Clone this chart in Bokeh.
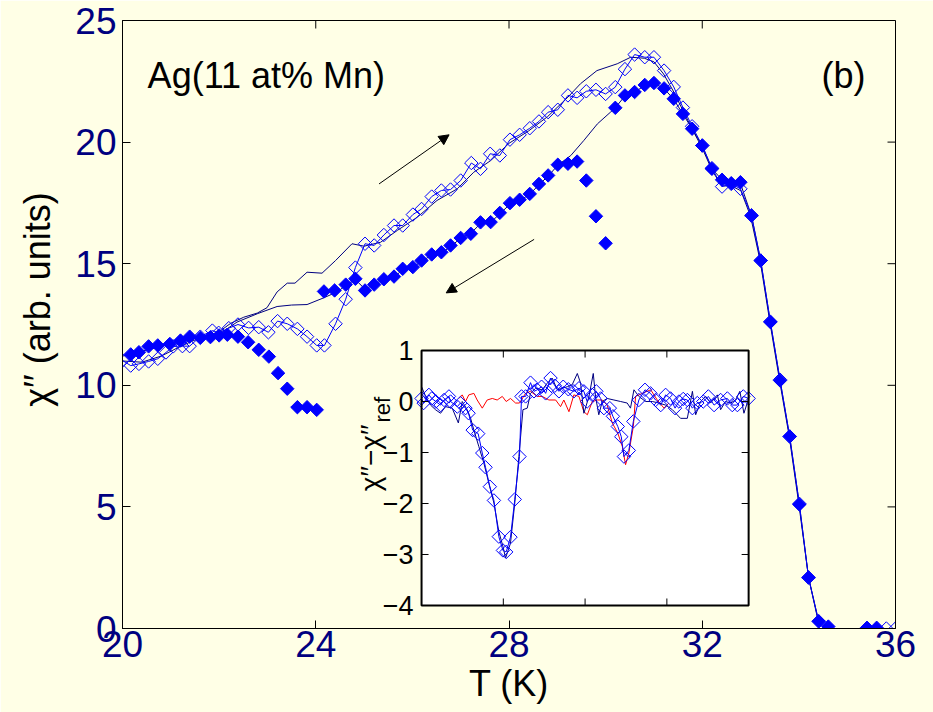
import numpy as np
from math import pi
from bokeh.plotting import figure
from bokeh.models import Range1d, FixedTicker, Label, Arrow, NormalHead
from bokeh.embed import file_html
from bokeh.resources import INLINE
from bokeh.core.properties import value

BG = "#FFFFE6"
NAVY = "#000080"
BLUE = "#0000FF"
FONT = "Liberation Sans"

# ---------------- main panel data ----------------
x_ticks = [20, 24, 28, 32, 36]
y_ticks = [0, 5, 10, 15, 20, 25]

# heating with stops (open diamonds)
open_T = [20.0, 20.17, 20.34, 20.54, 20.73, 20.9, 21.05, 21.24, 21.39, 21.61, 21.86, 21.99,
          22.2, 22.39, 22.61, 22.82, 23.02, 23.21, 23.41, 23.62, 23.82, 24.02, 24.18, 24.41,
          24.62, 24.82, 25.02, 25.21, 25.41, 25.62, 25.8, 26.01, 26.19, 26.4, 26.6, 26.79,
          27.0, 27.22, 27.41, 27.61, 27.81, 28.02, 28.22, 28.43, 28.62, 28.81, 29.01, 29.22,
          29.41, 29.6, 29.8, 30.0, 30.2, 30.4, 30.6, 30.81, 31.0, 31.21, 31.41, 31.6, 31.79,
          32.0, 32.2, 32.41, 32.6, 32.79, 33.02, 33.21, 33.41, 33.61, 33.81, 34.01, 34.2, 34.41]
open_chi = [11.02, 10.81, 10.88, 10.98, 11.09, 11.35, 11.6, 11.61, 11.61, 12.0, 12.25, 12.16,
            12.35, 12.5, 12.36, 12.39, 12.18, 12.64, 12.53, 12.32, 12.0, 11.64, 11.64, 12.53,
            13.54, 14.84, 15.82, 15.75, 16.18, 16.57, 16.57, 17.02, 17.25, 17.76, 18.01, 18.05,
            18.42, 19.14, 18.9, 19.52, 19.45, 20.1, 20.3, 20.57, 20.85, 21.23, 21.33, 21.92,
            21.82, 22.09, 22.15, 21.98, 22.26, 23.0, 23.6, 23.49, 23.49, 22.94, 22.27, 21.42, 20.65,
            19.86, 18.93, 18.17, 18.28, 18.08, 16.98, 15.13, 12.62, 10.23, 7.89, 5.13, 2.09, 0.29]
open_tail_T = [35.81, 36.0]
open_tail_chi = [0.0, 0.0]

# cooling with stops (filled diamonds)
filled_T = [20.17, 20.34, 20.54, 20.73, 20.98, 21.2, 21.39, 21.61, 21.82, 22.0, 22.17, 22.39,
            22.6, 22.82, 23.03, 23.22, 23.41, 23.62, 23.82, 24.02,
            24.17, 24.39, 24.62, 24.82, 25.02, 25.21, 25.41, 25.62, 25.8, 26.01, 26.19, 26.4,
            26.6, 26.79, 27.0, 27.21, 27.41, 27.62, 27.81, 28.02, 28.22, 28.43, 28.62, 28.81,
            29.01, 29.22, 29.41, 29.6, 29.8, 30.0,
            30.2, 30.4, 30.6, 30.81, 31.0, 31.21, 31.41, 31.6, 31.79, 32.0, 32.2, 32.41, 32.6,
            32.79, 33.02, 33.21, 33.41, 33.61, 33.81, 34.01, 34.2, 34.41, 34.61, 35.41, 35.61]
filled_chi = [11.27, 11.36, 11.6, 11.64, 11.7, 11.84, 12.0, 11.95, 11.98, 12.05, 12.08, 12.0,
              11.77, 11.46, 11.18, 10.5, 9.86, 9.1, 9.1, 8.99,
              13.86, 13.9, 14.14, 14.38, 13.9, 14.14, 14.36, 14.47, 14.79, 14.86, 15.13, 15.38,
              15.47, 15.75, 16.06, 16.23, 16.7, 16.71, 17.09, 17.49, 17.63, 17.87, 18.28, 18.63,
              19.07, 19.11, 19.2, 18.42, 16.95, 15.84,
              21.41, 21.92, 22.06, 22.35, 22.43, 22.21, 21.78, 21.16, 20.55, 19.86, 18.9, 18.45, 18.31,
              18.35, 16.98, 15.13, 12.6, 10.2, 7.9, 5.1, 2.1, 0.3, 0.08, 0.03, 0.03]

# reference curves (thin lines)
ref_heat_T = [20.0, 20.4, 20.8, 21.2, 21.6, 22.0, 22.24, 22.51, 22.79, 22.99, 23.2, 23.41, 23.57,
              23.82, 24.13, 24.41, 24.75, 25.0, 25.34, 25.69, 26.1, 26.51, 26.93, 27.27, 27.62,
              28.0, 28.4, 28.8, 29.22, 29.48, 29.82, 30.24, 30.52, 30.8, 31.0, 31.2, 31.4, 31.6,
              31.8, 32.0, 32.2, 32.4, 32.6, 32.8, 33.0, 33.2, 33.4, 33.6, 33.8, 34.0, 34.2, 34.4]
ref_heat_chi = [11.0, 10.95, 11.2, 11.6, 11.95, 12.2, 12.55, 12.8, 12.97, 13.19, 13.84, 14.2, 14.2,
                14.65, 14.61, 15.13, 15.82, 15.72, 15.88, 16.37, 16.91, 17.6, 18.08, 18.76, 19.24,
                19.95, 20.45, 21.05, 21.85, 22.4, 22.94, 23.22, 23.49, 23.45, 23.3, 22.8, 22.1, 21.3,
                20.5, 19.75, 18.85, 18.2, 18.2, 18.0, 16.95, 15.1, 12.6, 10.2, 7.9, 5.1, 2.1, 0.3]
ref_cool_T = [20.0, 20.4, 20.8, 21.2, 21.6, 22.0, 22.37, 22.8, 23.2, 23.5, 23.82, 24.17, 24.45,
              24.62, 24.82, 25.02, 25.21, 25.41, 25.62, 25.8, 26.01, 26.19, 26.4, 26.6, 26.79,
              27.0, 27.21, 27.41, 27.62, 27.81, 28.02, 28.22, 28.43, 28.62, 28.81, 29.01, 29.28,
              29.55, 29.83, 30.1, 30.2, 30.4, 30.6, 30.81, 31.0, 31.21, 31.41, 31.6, 31.79, 32.0,
              32.2, 32.41, 32.6, 32.79, 33.02, 33.21, 33.41, 33.61, 33.81, 34.01, 34.2, 34.41]
ref_cool_chi = [11.2, 11.4, 11.6, 11.85, 12.0, 12.1, 12.6, 12.95, 13.24, 13.3, 13.32, 13.6, 13.85,
                14.1, 14.35, 13.95, 14.15, 14.35, 14.45, 14.75, 14.85, 15.1, 15.35, 15.45, 15.7,
                16.05, 16.25, 16.65, 16.7, 17.05, 17.45, 17.6, 17.85, 18.25, 18.6, 19.05, 19.45,
                20.07, 20.75, 21.23, 21.41, 21.9, 22.05, 22.33, 22.42, 22.2, 21.76, 21.15, 20.55, 19.85,
                18.9, 18.45, 18.3, 18.3, 16.97, 15.12, 12.6, 10.2, 7.9, 5.1, 2.1, 0.3]

# ---------------- inset data ----------------
inset_x_ticks = [24, 28, 32]
inset_y_ticks = [1, 0, -1, -2, -3, -4]
inset_y_labels = ["1", "0", "\u22121", "\u22122", "\u22123", "\u22124"]

ins_dia_T = [20.0, 20.1, 20.36, 20.5, 20.7, 20.93, 21.1, 21.34, 21.42, 21.75, 21.9, 22.15, 22.3,
             22.5, 22.77, 22.97, 23.13, 23.34, 23.54, 23.78, 23.98, 24.14, 24.35, 24.56, 24.79,
             24.89, 25.09, 25.33, 25.5, 25.66, 25.87, 26.07, 26.31, 26.52, 26.72, 26.93, 27.18,
             27.45, 27.7, 27.94, 28.1, 28.35, 28.55, 28.76, 28.92, 29.21, 29.36, 29.6, 29.77, 29.9,
             30.14, 30.36, 30.63, 30.93, 31.2, 31.45, 31.7, 31.94, 32.18, 32.4, 32.59, 32.8, 33.0,
             33.25, 33.49, 33.78, 34.03, 34.31, 34.63, 34.96, 35.2, 35.45, 35.74, 36.0]
ins_dia_v = [0.06, -0.03, 0.13, 0.06, 0.0, -0.07, 0.03, 0.1, 0.0, -0.1, -0.03, -0.13, -0.23,
             -0.56, -0.63, -1.01, -1.29, -1.67, -1.94, -2.65, -2.92, -2.95, -2.66, -1.92, -1.08,
             0.1, 0.1, 0.37, 0.2, 0.23, 0.29, 0.16, 0.46, 0.31, 0.2, 0.29, 0.24,
             0.2, 0.26, 0.2, 0.0, 0.13, 0.2, 0.06, -0.13, -0.13, -0.29, -0.49, -0.69, -1.08,
             -0.96, -0.39, 0.03, 0.23, 0.16, 0.03, -0.07, 0.13, 0.06, -0.13, 0.0, 0.05, 0.03,
             -0.13, -0.03, 0.0, 0.1, -0.07, 0.03, 0.06, -0.07, -0.07, 0.1, 0.06]

ins_navy_T = [20.0, 20.2, 20.44, 20.68, 20.93, 21.17, 21.5, 21.8, 21.99, 22.23, 22.4, 22.56, 22.8,
              23.05, 23.29, 23.54, 23.78, 23.98, 24.11, 24.35, 24.56, 24.76, 24.96, 25.17, 25.33,
              25.58, 25.9, 26.15, 26.39, 26.64, 26.88, 27.13, 27.37, 27.62, 27.78, 27.94, 28.19,
              28.4, 28.51, 28.67, 28.84, 29.08, 29.41, 29.74, 30.06, 30.22, 30.39, 30.63, 30.96,
              31.29, 31.61, 31.94, 32.27, 32.67, 33.0, 33.25, 33.41, 33.65, 33.9, 34.14, 34.47,
              34.63, 34.87, 35.12, 35.36, 35.57, 35.77, 36.0]
ins_navy_v = [0.29, 0.1, -0.07, -0.16, -0.23, -0.1, -0.13, -0.42, 0.0, -0.16, -0.33, -0.56, -0.88,
              -1.21, -1.6, -1.99, -2.55, -2.84, -3.07, -2.78, -1.99, -1.08, -0.16, -0.13, 0.16,
              0.26, 0.23, 0.36, 0.46, 0.23, 0.26, 0.29, 0.33, 0.55, 0.36, -0.23, 0.1,
              0.55, 0.1, -0.26, 0.0, 0.06, 0.03, 0.0, -0.03, -0.13, 0.23, 0.1, 0.0,
              0.0, -0.03, -0.07, -0.16, -0.33, -0.33, 0.2, -0.26, 0.0, 0.1, -0.03, 0.13,
              -0.16, 0.0, -0.03, 0.03, 0.2, -0.23, 0.06]

ins_red_T = [21.83, 21.99, 22.15, 22.31, 22.56, 22.72, 22.97, 23.21, 23.46, 23.7, 23.95, 24.14,
             24.35, 24.6, 24.79, 25.09, 25.33, 25.66, 25.9, 26.23, 26.56, 26.8, 26.96, 27.21,
             27.45, 27.7, 27.94, 28.11, 28.35, 28.6, 28.84, 29.08, 29.33, 29.6, 29.82, 29.98,
             30.14, 30.36, 30.47, 30.8, 31.21, 31.53, 31.86, 32.1]
ins_red_v = [0.06, 0.13, 0.0, 0.13, 0.16, 0.03, -0.13, 0.03, 0.06, 0.03, 0.1, 0.0,
             0.06, -0.03, -0.03, 0.16, 0.2, 0.1, 0.1, 0.03, 0.03, -0.1, 0.03, -0.2,
             0.13, 0.1, -0.2, -0.26, 0.0, 0.03, 0.03, -0.07, -0.42, -0.62, -0.88, -1.24,
             -1.01, -0.49, 0.1, 0.16, 0.23, 0.03, -0.13, -0.03]

# ---------------- figure ----------------
p = figure(width=933, height=712,
           min_border_left=122, min_border_right=38, min_border_top=20, min_border_bottom=84,
           x_range=Range1d(20, 36), y_range=Range1d(0, 25),
           output_backend="svg", toolbar_location=None,
           background_fill_color=BG, border_fill_color=BG,
           outline_line_color="black", outline_line_width=1)
p.grid.visible = False

for ax in (p.xaxis[0], p.yaxis[0]):
    ax.major_tick_in = 8
    ax.major_tick_out = 0
    ax.minor_tick_line_color = None
    ax.axis_line_color = "black"
    ax.major_tick_line_color = "black"
    ax.major_label_text_color = NAVY
    ax.major_label_text_font = FONT
    ax.major_label_text_font_size = "37px"
    ax.axis_label_text_font = FONT
    ax.axis_label_text_font_size = "36px"
    ax.axis_label_text_font_style = "normal"
    ax.axis_label_text_color = "black"

p.xaxis[0].ticker = FixedTicker(ticks=x_ticks)
p.yaxis[0].ticker = FixedTicker(ticks=y_ticks)
p.xaxis[0].axis_label = "T (K)"
# leading no-break spaces shift the centred title upward, as in the original
p.yaxis[0].axis_label = "\u00a0" * 5 + "\u03c7\u2032\u2032 (arb. units)"
p.xaxis[0].major_label_standoff = 2
p.xaxis[0].axis_label_standoff = 3
p.yaxis[0].major_label_standoff = 6
p.yaxis[0].axis_label_standoff = 14

# inward ticks on the top and right frame edges
nx = len(x_ticks)
ny = len(y_ticks)
p.ray(x=x_ticks, y=[25] * nx, length=8, length_units="screen", angle=-pi / 2,
      line_color="black", line_width=1)
p.ray(x=[36] * ny, y=y_ticks, length=8, length_units="screen", angle=pi,
      line_color="black", line_width=1)

# reference curves
p.line(ref_heat_T, ref_heat_chi, line_color=NAVY, line_width=1)
p.line(ref_cool_T, ref_cool_chi, line_color=NAVY, line_width=1)
# heating curve line
p.line(open_T, open_chi, line_color=BLUE, line_width=1)
# filled diamonds
p.scatter(filled_T, filled_chi, marker="square", angle=pi / 4, size=9.5,
          fill_color=BLUE, line_color=BLUE, line_width=1)
# open diamonds
p.scatter(open_T, open_chi, marker="square", angle=pi / 4, size=9.5,
          fill_alpha=0, line_color=BLUE, line_width=1)
p.scatter(open_tail_T, open_tail_chi, marker="square", angle=pi / 4, size=9.5,
          fill_alpha=0, line_color=BLUE, line_width=1)

# arrows
p.add_layout(Arrow(end=NormalHead(size=10, fill_color="black", line_color="black"),
                   x_start=25.31, y_start=18.28, x_end=26.76, y_end=20.3,
                   line_color="black", line_width=1))
p.add_layout(Arrow(end=NormalHead(size=10, fill_color="black", line_color="black"),
                   x_start=28.52, y_start=16.0, x_end=26.7, y_end=13.8,
                   line_color="black", line_width=1))

p.add_layout(Label(x=20.52, y=22.74, text="Ag(11 at% Mn)", text_font=FONT,
                   text_font_size="36px", text_color="black", text_baseline="alphabetic"))
p.add_layout(Label(x=35.38, y=22.74, text="(b)", text_font=FONT, text_align="right",
                   text_font_size="36px", text_color="black", text_baseline="alphabetic"))

# ---------------- inset ----------------
ins = p.subplot(x_source=Range1d(20, 36), y_source=Range1d(-4, 1),
                x_target=Range1d(26.19, 32.96), y_target=Range1d(0.946, 11.43))

ins.quad(left=[20], right=[36], bottom=[-4], top=[1], fill_color="white", line_color=None)
ins.line(ins_red_T, ins_red_v, line_color="#FF0000", line_width=1)
ins.line(ins_navy_T, ins_navy_v, line_color=NAVY, line_width=1)
ins.line(ins_dia_T, ins_dia_v, line_color=BLUE, line_width=1)
ins.scatter(ins_dia_T, ins_dia_v, marker="square", angle=pi / 4, size=9.5,
            fill_alpha=0, line_color=BLUE, line_width=1)
# inset ticks
n = len(inset_x_ticks)
ins.ray(x=inset_x_ticks, y=[-4] * n, length=7, length_units="screen", angle=pi / 2,
        line_color="black", line_width=1)
ins.ray(x=inset_x_ticks, y=[1] * n, length=7, length_units="screen", angle=-pi / 2,
        line_color="black", line_width=1)
m = len(inset_y_ticks)
ins.ray(x=[20] * m, y=inset_y_ticks, length=7, length_units="screen", angle=0,
        line_color="black", line_width=1)
ins.ray(x=[36] * m, y=inset_y_ticks, length=7, length_units="screen", angle=pi,
        line_color="black", line_width=1)
ins.quad(left=[20], right=[36], bottom=[-4], top=[1], fill_alpha=0, line_color="black",
         line_width=2)
ins.text(x=[20] * m, y=inset_y_ticks, text=inset_y_labels, x_offset=-8,
         text_align="right", text_baseline="middle", text_font=value(FONT),
         text_font_size="27px", text_color="black")
ins.text(x=[20], y=[-0.45], text=["\u03c7\u2032\u2032\u2212\u03c7\u2032\u2032"], x_offset=-51,
         angle=pi / 2, text_align="right", text_baseline="middle", text_font=value(FONT),
         text_font_size="28px", text_color="black")
ins.text(x=[20], y=[-0.45], text=["ref"], x_offset=-39, y_offset=-2,
         angle=pi / 2, text_align="left", text_baseline="middle", text_font=value(FONT),
         text_font_size="22px", text_color="black")

open("out.html", "w").write(file_html(p, INLINE))
